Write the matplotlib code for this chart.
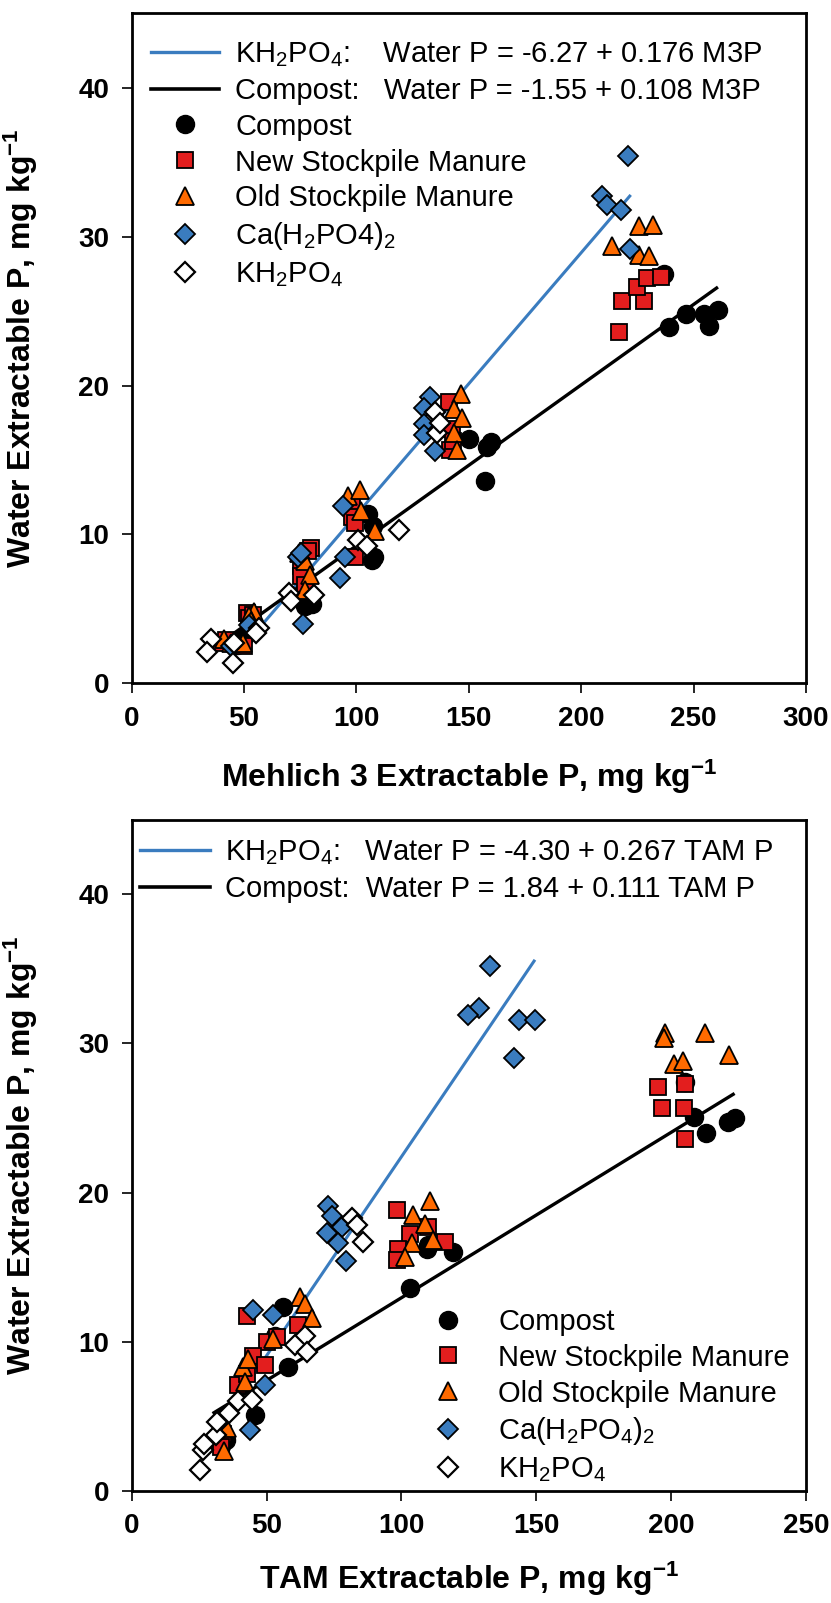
import matplotlib
matplotlib.use('Agg')
import matplotlib.pyplot as plt
from matplotlib.lines import Line2D
import numpy as np

plt.rcParams['font.family'] = ['Liberation Sans', 'DejaVu Sans']
plt.rcParams['mathtext.fontset'] = 'custom'
plt.rcParams['mathtext.rm'] = 'Liberation Sans'
plt.rcParams['mathtext.it'] = 'Liberation Sans:italic'
plt.rcParams['mathtext.bf'] = 'Liberation Sans:bold'
plt.rcParams['mathtext.default'] = 'regular'

# ---------------- Top panel: Mehlich 3 P vs Water P ----------------
m3_compost_x = [47, 50, 77, 79, 80, 105, 107.5, 107, 108, 150, 158, 160, 157, 238.8, 246.8, 256.8, 254.6, 260.8, 236.8]
m3_compost_y = [2.6, 3.1, 5.2, 5.5, 5.3, 11.4, 10.6, 8.3, 8.5, 16.4, 15.9, 16.2, 13.6, 23.9, 24.8, 24.0, 24.8, 25.1, 27.5]

m3_new_x = [39.6, 42, 50, 51.5, 52.2, 54, 79.9, 78.4, 75.4, 75.4, 77, 97.8, 97.8, 99.3, 99.3, 141, 142.5, 141.8, 143, 216.7, 217.9, 227.7, 224.7, 229.3, 235.4]
m3_new_y = [2.7, 2.9, 2.5, 4.7, 4.4, 4.6, 9.1, 8.9, 7.9, 7.2, 6.6, 11.9, 11.2, 10.8, 8.5, 18.9, 17.1, 15.7, 16.3, 23.6, 25.7, 25.7, 26.6, 27.2, 27.3]

m3_old_x = [41, 44, 49.3, 54.5, 52.2, 53, 74.6, 76.9, 79.1, 76.9, 96.3, 101.5, 101.9, 108.2, 146.3, 143.3, 147, 143.3, 144.8, 213.7, 225.8, 231.8, 225.8, 230.1]
m3_old_y = [3.0, 2.7, 2.7, 4.8, 4.5, 4.2, 8.75, 8.2, 7.3, 6.3, 12.6, 13.0, 11.6, 10.2, 19.4, 18.4, 17.8, 16.8, 15.7, 29.4, 30.7, 30.8, 28.8, 28.7]

m3_ca_x = [44, 52, 74, 75.4, 76.1, 94, 94.8, 92.5, 132.8, 129.9, 129.9, 129.9, 135, 220.7, 209.2, 211.6, 217.7, 221.7]
m3_ca_y = [2.5, 3.9, 8.5, 8.75, 4.0, 11.9, 8.5, 7.1, 19.2, 18.5, 17.4, 16.7, 15.6, 35.4, 32.7, 32.1, 31.8, 29.2]

m3_kh_x = [35.1, 33.3, 45.2, 45.5, 56.7, 55.2, 70.1, 70.9, 81, 100.7, 104.5, 118.7, 135, 135.8, 137]
m3_kh_y = [3.0, 2.1, 1.35, 2.7, 3.7, 3.4, 6.06, 5.5, 5.95, 9.65, 9.2, 10.3, 18.2, 16.8, 17.5]

# regression lines (intercept, slope, x-range)
m3_kh_fit = (-6.27, 0.176, 48, 222)
m3_compost_fit = (-1.55, 0.108, 42, 260.8)

# ---------------- Bottom panel: TAM P vs Water P ----------------
tam_compost_x = [33, 35, 45.7, 56.2, 58.1, 53, 103.2, 109.4, 119.2, 110, 208.6, 213, 221, 223.5, 205]
tam_compost_y = [3.0, 3.4, 5.1, 12.3, 8.3, 10.4, 13.6, 16.2, 16.0, 16.5, 25.1, 24.0, 24.7, 25.0, 27.4]

tam_new_x = [98.2, 42.6, 61.8, 50.1, 53.8, 45.1, 49.4, 39.6, 42.6, 110, 103.2, 116.2, 98.9, 98.2, 34, 33, 195.2, 205.2, 196.6, 204.9, 205]
tam_new_y = [18.8, 11.7, 11.1, 10.0, 10.3, 9.0, 8.4, 7.1, 7.8, 17.7, 17.2, 16.7, 16.2, 15.5, 3.8, 2.9, 27.1, 27.3, 25.7, 25.7, 23.6]

tam_old_x = [110.6, 104.4, 108.7, 103.8, 111.8, 101.3, 62.4, 64.3, 66.7, 52.5, 41.4, 43.3, 42, 35.2, 34.2, 197.7, 212.7, 221.5, 201, 204.4, 197.5]
tam_old_y = [19.4, 18.5, 17.9, 16.6, 16.8, 15.7, 13.0, 12.5, 11.6, 10.2, 8.3, 8.8, 7.3, 4.2, 2.65, 30.7, 30.7, 29.2, 28.6, 28.8, 30.4]

tam_ca_x = [72.9, 74.1, 77.9, 72.3, 76.6, 79.5, 45.1, 52.5, 49.4, 44, 132.9, 128.7, 124.6, 143.7, 149.5, 141.7]
tam_ca_y = [19.1, 18.4, 17.7, 17.3, 16.6, 15.4, 12.1, 11.8, 7.1, 4.07, 35.2, 32.4, 31.9, 31.6, 31.6, 29.0]

tam_kh_x = [81.6, 83.4, 85.9, 64.3, 60.6, 64.9, 39.6, 44.5, 32.8, 31.2, 26.3, 25.3, 27, 31.5, 36]
tam_kh_y = [18.3, 17.8, 16.7, 10.4, 9.8, 9.3, 6.0, 6.1, 4.7, 3.74, 2.73, 1.39, 3.1, 4.6, 5.2]

tam_kh_fit = (-4.30, 0.267, 30, 149.5)
tam_compost_fit = (1.84, 0.111, 30, 223.5)

# ---------------- styles ----------------
BLUE = '#3A7CBF'
RED = '#E31E1E'
ORANGE = '#FF6A00'
styles = {
    'compost': dict(marker='o', ms=13, mfc='black', mec='black', mew=1.0, zorder=3),
    'new': dict(marker='s', ms=11.5, mfc=RED, mec='black', mew=1.3, zorder=4),
    'old': dict(marker='^', ms=12.5, mfc=ORANGE, mec='black', mew=1.3, zorder=5),
    'ca': dict(marker='D', ms=10.5, mfc=BLUE, mec='black', mew=1.3, zorder=6),
    'kh': dict(marker='D', ms=10.5, mfc='white', mec='black', mew=1.6, zorder=7),
}

fig = plt.figure(figsize=(8.31, 16.03), dpi=100)
ax1 = fig.add_axes([0.1585, 0.5737, 0.8115, 0.418])
ax2 = fig.add_axes([0.1584, 0.0701, 0.8116, 0.4184])

def draw_fit(ax, fit, color, lw):
    b0, b1, x0, x1 = fit
    xs = np.array([x0, x1])
    ax.plot(xs, b0 + b1 * xs, color=color, lw=lw, zorder=2, solid_capstyle='butt')

def scatter(ax, x, y, key):
    st = styles[key]
    ax.plot(x, y, ls='none', **st)

def style_axes(ax, xmax, xlabel, lpad):
    ax.set_xlim(0, xmax)
    ax.set_ylim(0, 45)
    ax.set_xticks(np.arange(0, xmax + 1, 50))
    ax.set_yticks([0, 10, 20, 30, 40])
    for s in ax.spines.values():
        s.set_linewidth(2.0)
    ax.tick_params(axis='both', which='major', direction='out', length=7, width=1.2,
                   labelsize=20, pad=9, top=False, right=False)
    for lab in ax.get_xticklabels() + ax.get_yticklabels():
        lab.set_fontweight('bold')
    ax.set_xlabel(xlabel, fontsize=23, fontweight='bold', labelpad=lpad)
    ax.set_ylabel(r'Water Extractable P, mg kg$^{-1}$', fontsize=23, fontweight='bold')
    ax.yaxis.set_label_coords(-0.136, 0.5)

# ---- top ----
draw_fit(ax1, m3_kh_fit, BLUE, 2.2)
draw_fit(ax1, m3_compost_fit, 'black', 2.4)
scatter(ax1, m3_compost_x, m3_compost_y, 'compost')
scatter(ax1, m3_new_x, m3_new_y, 'new')
scatter(ax1, m3_old_x, m3_old_y, 'old')
scatter(ax1, m3_ca_x, m3_ca_y, 'ca')
scatter(ax1, m3_kh_x, m3_kh_y, 'kh')
style_axes(ax1, 300, r'Mehlich 3 Extractable P, mg kg$^{-1}$', 19)

def mk(key):
    st = dict(styles[key]); st.pop('zorder')
    return Line2D([], [], ls='none', **st)

h_top = [Line2D([], [], color=BLUE, lw=2.4), Line2D([], [], color='black', lw=2.6),
         mk('compost'), mk('new'), mk('old'), mk('ca'), mk('kh')]
l_top = ['KH$_2$PO$_4$:    Water P = -6.27 + 0.176 M3P',
         'Compost:   Water P = -1.55 + 0.108 M3P',
         'Compost', 'New Stockpile Manure', 'Old Stockpile Manure',
         'Ca(H$_2$PO4)$_2$', 'KH$_2$PO$_4$']
ax1.legend(h_top, l_top, loc='upper left', bbox_to_anchor=(0.0286, 0.960), frameon=False,
           fontsize=21, borderpad=0, borderaxespad=0, handlelength=2.33, handletextpad=0.55,
           labelspacing=0.27)

# ---- bottom ----
draw_fit(ax2, tam_kh_fit, BLUE, 2.2)
draw_fit(ax2, tam_compost_fit, 'black', 2.4)
scatter(ax2, tam_compost_x, tam_compost_y, 'compost')
scatter(ax2, tam_new_x, tam_new_y, 'new')
scatter(ax2, tam_old_x, tam_old_y, 'old')
scatter(ax2, tam_ca_x, tam_ca_y, 'ca')
scatter(ax2, tam_kh_x, tam_kh_y, 'kh')
style_axes(ax2, 250, r'TAM Extractable P, mg kg$^{-1}$', 15)

h_b1 = [Line2D([], [], color=BLUE, lw=2.4), Line2D([], [], color='black', lw=2.6)]
l_b1 = ['KH$_2$PO$_4$:   Water P = -4.30 + 0.267 TAM P',
        'Compost:  Water P = 1.84 + 0.111 TAM P']
leg1 = ax2.legend(h_b1, l_b1, loc='upper left', bbox_to_anchor=(0.0125, 0.973), frameon=False,
                  fontsize=21, borderpad=0, borderaxespad=0, handlelength=2.4, handletextpad=0.5,
                  labelspacing=0.28)
ax2.add_artist(leg1)
h_b2 = [mk('compost'), mk('new'), mk('old'), mk('ca'), mk('kh')]
l_b2 = ['Compost', 'New Stockpile Manure', 'Old Stockpile Manure',
        'Ca(H$_2$PO$_4$)$_2$', 'KH$_2$PO$_4$']
ax2.legend(h_b2, l_b2, loc='upper left', bbox_to_anchor=(0.419, 0.2726), frameon=False,
           fontsize=21, borderpad=0, borderaxespad=0, handlelength=2.33, handletextpad=0.55,
           labelspacing=0.27)

fig.savefig('out.png', dpi=100)
